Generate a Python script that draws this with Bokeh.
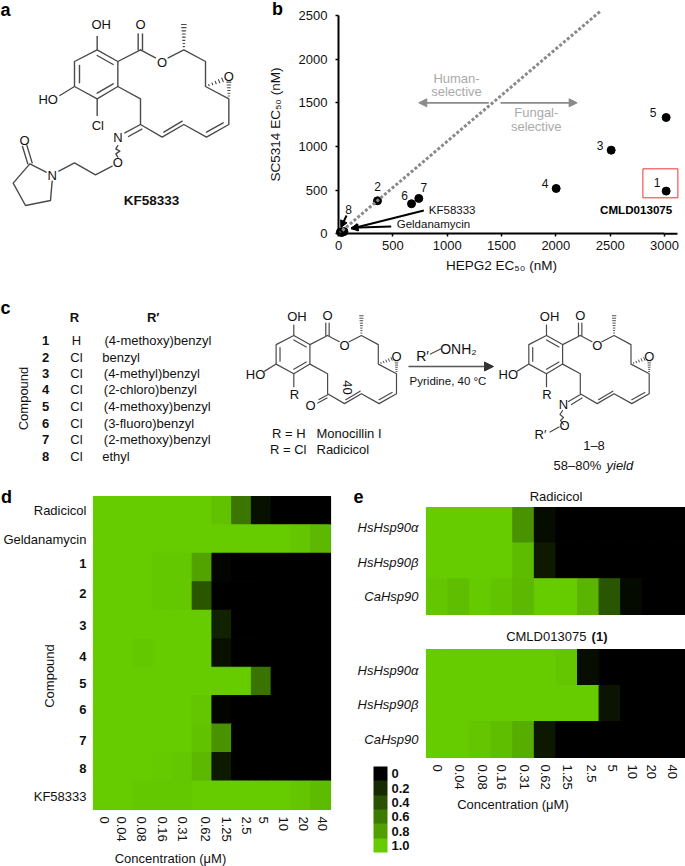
import math
from bokeh.core.properties import value
from bokeh.embed import file_html
from bokeh.layouts import column, row
from bokeh.models import (Arrow, ColorBar, ColumnDataSource, FixedTicker, LinearAxis,
                          LinearColorMapper, NormalHead, Range1d)
from bokeh.plotting import figure
from bokeh.resources import INLINE
from bokeh.transform import linear_cmap

FONT = "Liberation Sans"
INK = "#4a4a4a"

# ---------- panel b data ----------
hepg2 = [3015, 2509, 3015, 2003, 739, 672, 359, 18, 50, 30]
sc5314 = [1332, 958, 489, 519, 405, 344, 378, 20, 25, 15]
b_names = ["5", "3", "1", "4", "7", "6", "2"]
b_dx = [-13, -11, -9, -11, 5, -7, 0]
b_dy = [5, 5, 9, 5, 11, 8, 14]
b_ticks_x = [0, 500, 1000, 1500, 2000, 2500, 3000]
b_ticks_y = [0, 500, 1000, 1500, 2000, 2500]

# ---------- heatmap data ----------
conc = ["0", "0.04", "0.08", "0.16", "0.31", "0.62", "1.25", "2.5", "5", "10", "20", "40"]
d_radicicol = [1, 1, 1, 1, 1, 1, .95, .58, .08, 0, 0, 0]
d_geldanamycin = [1, 1, 1, 1, 1, 1, 1, 1, 1, 1, .97, .9]
d_1 = [1, 1, 1, .98, .98, .8, .03, 0, 0, 0, 0, 0]
d_2 = [1, 1, 1, .98, .98, .42, 0, 0, 0, 0, 0, 0]
d_3 = [1, 1, 1, 1, 1, 1, .17, 0, 0, 0, 0, 0]
d_4 = [1, 1, .98, 1, 1, 1, .08, 0, 0, 0, 0, 0]
d_5 = [1, 1, 1, 1, 1, 1, 1, 1, .57, 0, 0, 0]
d_6 = [1, 1, 1, 1, 1, .97, .02, 0, 0, 0, 0, 0]
d_7 = [1, 1, 1, 1, 1, .95, .72, 0, 0, 0, 0, 0]
d_8 = [1, 1, 1, .99, .98, .9, .13, 0, 0, 0, 0, 0]
d_kf = [1, 1, .98, .98, .98, 1, 1, 1, 1, 1, .97, .92]
d_rows = [d_radicicol, d_geldanamycin, d_1, d_2, d_3, d_4, d_5, d_6, d_7, d_8, d_kf]
d_named = {0: "Radicicol", 1: "Geldanamycin", 10: "KF58333"}
d_bold = {2: "1", 3: "2", 4: "3", 5: "4", 6: "5", 7: "6", 8: "7", 9: "8"}
d_label_pos = [.50, 1.52, 2.37, 3.41, 4.54, 5.63, 6.57, 7.50, 8.59, 9.56, 10.56]
d_x_pos = [.54, 1.44, 2.44, 3.49, 4.53, 5.66, 6.73, 7.77, 8.62, 9.63, 10.64, 11.62]

e_hsp = ["HsHsp90α", "HsHsp90β", "CaHsp90"]
e_rad_a = [1, 1, 1, 1, .72, .06, 0, 0, 0, 0, 0, 0]
e_rad_b = [1, 1, 1, 1, .92, .13, 0, 0, 0, 0, 0, 0]
e_rad_c = [.97, .93, .99, .96, .9, 1, 1, .88, .42, .05, 0, 0]
e_cml_a = [1, 1, 1, 1, 1, 1, .97, .07, 0, 0, 0, 0]
e_cml_b = [1, 1, 1, 1, 1, 1, 1, 1, .1, 0, 0, 0]
e_cml_c = [1, 1, .97, .93, .85, .12, 0, 0, 0, 0, 0, 0]
e_x_pos = [.49, 1.54, 2.58, 3.48, 4.56, 5.51, 6.52, 7.63, 8.6, 9.53, 10.41, 11.38]
e_label_pos = [.57, 1.53, 2.49]

legend_levels = ["0", "0.2", "0.4", "0.6", "0.8", "1.0"]
legend_colors = ["#66cc00", "#529f00", "#3d7a00", "#2a5200", "#172b00", "#000000"]

# ---------- table data ----------
compound_no = ["1", "2", "3", "4", "5", "6", "7", "8"]
compound_r = ["H", "Cl", "Cl", "Cl", "Cl", "Cl", "Cl", "Cl"]
compound_rp = ["(4-methoxy)benzyl", "benzyl", "(4-methyl)benzyl", "(2-chloro)benzyl",
               "(4-methoxy)benzyl", "(3-fluoro)benzyl", "(2-methoxy)benzyl", "ethyl"]

# ---------- structure scaffold (drawing units) ----------
SCAFFOLD_BONDS = [
    [(290, 148), (352, 183), (352, 258), (290, 295), (222, 258), (222, 183), (290, 148)],
    [(237, 195), (237, 247)], [(290, 165), (338, 192)], [(290, 278), (338, 250)],
    [(290, 148), (290, 108)], [(222, 258), (178, 285)],
    [(352, 183), (420, 148)], [(413, 148), (413, 100)], [(426, 148), (426, 100)],
    [(420, 148), (465, 172)], [(503, 172), (550, 148), (615, 183), (615, 258), (685, 295), (685, 372),
                               (618, 410), (550, 372), (485, 410), (420, 372), (420, 295), (352, 258)],
    [(668, 367), (618, 395)], [(545, 362), (490, 395)],
]
SCAFFOLD_HASHES = [((550, 148), (550, 72), 8, 6), ((615, 258), (666, 238), 5, 5), ((685, 295), (685, 245), 6, 5)]
SCAFFOLD_O = [(420, 72), (485, 185), (685, 228)]


def canvas(x_range, y_range, w, h):
    p = figure(x_range=x_range, y_range=y_range, width=w, height=h, output_backend="svg",
               toolbar_location=None, min_border=0, outline_line_color=None)
    p.grid.visible = False
    return p


def txt(p, x, y, s, size=13, style="normal", align="center", angle=0.0, color="#111111"):
    p.text(x=[x], y=[y], text=[s], text_font=value(FONT), text_font_size=value(f"{size}px"),
           text_font_style=style, text_align=align, text_baseline="middle", angle=angle, text_color=color)


def bonds(p, segs, width=1.4, color=INK):
    p.multi_line([[q[0] for q in s] for s in segs], [[q[1] for q in s] for s in segs],
                 line_color=color, line_width=width, line_cap="round", line_join="round")


def scaffold(p, ox, oy, s, lw, size, r_text):
    T = lambda q: (ox + s * (q[0] - 290), oy + s * (q[1] - 148))
    bonds(p, [[T(q) for q in seg] for seg in SCAFFOLD_BONDS + [[(290, 295), (290, 345)]]], lw)
    hs = []
    for a, b, n, hw in SCAFFOLD_HASHES:
        L = math.hypot(b[0] - a[0], b[1] - a[1])
        ux, uy = (b[0] - a[0]) / L, (b[1] - a[1]) / L
        for i in range(1, n + 1):
            f = i / n
            cx, cy = a[0] + (b[0] - a[0]) * f, a[1] + (b[1] - a[1]) * f
            w = hw * f + 1
            hs.append([T((cx - uy * w, cy + ux * w)), T((cx + uy * w, cy - ux * w))])
    bonds(p, hs, lw * .8)
    x, y = T((302, 73)); txt(p, x, y, "OH", size)
    x, y = T((143, 297)); txt(p, x, y, "HO", size)
    x, y = T((292, 375)); txt(p, x, y, r_text, size)
    for q in SCAFFOLD_O:
        x, y = T(q); txt(p, x, y, "O", size)
    return T


# ---------- panel a ----------
pa = canvas(Range1d(0, 260), Range1d(290, 0), 260, 290)
pa.axis.visible = False
Ta = scaffold(pa, 290 / 3, 148 / 3, 1 / 3, 1.4, 13, "Cl")
bonds(pa, [[Ta(q) for q in seg] for seg in [
    [(420, 372), (373, 397)], [(424, 386), (384, 408)],
    [(352, 435), (346, 445), (358, 452), (346, 460), (352, 470)],
    [(335, 497), (285, 523), (222, 487), (175, 512)],
    [(155, 542), (150, 600), (75, 615), (38, 548), (88, 490), (137, 515)],
    [(82, 490), (66, 438)], [(95, 487), (79, 434)],
]])
for q, s in [((352, 412), "N"), ((352, 487), "O"), ((155, 525), "N"), ((72, 420), "O")]:
    x, y = Ta(q); txt(pa, x, y, s, 13)
txt(pa, 151, 200, "KF58333", 13.5, "bold")
txt(pa, 5, 9, "a", 18, "bold", color="black")

# ---------- panel b ----------
pb = canvas(Range1d(-717.7, 3193), Range1d(-649.5, 2672), 425, 290)
pb.xaxis.axis_label = "HEPG2 EC₅₀ (nM)"
pb.yaxis.axis_label = "SC5314 EC₅₀ (nM)"
pb.xaxis.ticker = FixedTicker(ticks=b_ticks_x)
pb.yaxis.ticker = FixedTicker(ticks=b_ticks_y)
pb.xaxis.fixed_location = 0
pb.yaxis.fixed_location = 0
pb.xaxis.bounds = (0, 3000)
pb.yaxis.bounds = (0, 2500)
for ax in [pb.xaxis[0], pb.yaxis[0]]:
    ax.axis_line_width = 2
    ax.axis_line_color = "black"
    ax.major_tick_line_width = 1.5
    ax.major_tick_line_color = "black"
    ax.major_tick_in = 0
    ax.major_tick_out = 3
    ax.minor_tick_line_color = None
    ax.major_label_text_font = FONT
    ax.major_label_text_font_size = "13px"
    ax.major_label_text_color = "#111111"
    ax.axis_label_text_font = FONT
    ax.axis_label_text_font_size = "13.5px"
    ax.axis_label_text_font_style = "normal"
    ax.axis_label_text_color = "#111111"
pb.xaxis.major_label_standoff = 4
pb.yaxis.major_label_standoff = 8
pb.xaxis.axis_label_standoff = 5
pb.yaxis.axis_label_standoff = 13
pb.line([3000, 3119], [0, 0], line_color="black", line_width=2)
pb.scatter(hepg2, sc5314, size=8, color="black")
pb.line([0, 2410], [0, 2550], line_color="#8a8a8a", line_width=3, line_dash="3 2")
pb.text(x=hepg2[:7], y=sc5314[:7], text=b_names, x_offset=b_dx, y_offset=[-d for d in b_dy],
        text_font=value(FONT), text_font_size=value("12px"), text_align="center",
        text_baseline="middle", text_color="#111111")
for x0, y0, x1, y1 in [(74, 210, 22, 70), (785, 267, 115, 57), (485, 84, 115, 69)]:
    pb.add_layout(Arrow(end=NormalHead(size=7, fill_color="black", line_color="black"),
                        x_start=x0, y_start=y0, x_end=x1, y_end=y1, line_width=2, line_color="black"))
for x0, x1 in [(1383, 739), (1491, 2196)]:
    pb.add_layout(Arrow(end=NormalHead(size=8, fill_color="#8a8a8a", line_color="#8a8a8a"),
                        x_start=x0, y_start=1500, x_end=x1, y_end=1500, line_width=1.6, line_color="#8a8a8a"))
for x, y, s in [(1086, 1780, "Human-"), (1086, 1625, "selective"), (1820, 1385, "Fungal-"), (1820, 1225, "selective")]:
    txt(pb, x, y, s, 13, color="#aaaaaa")
txt(pb, 1046, 267, "KF58333", 11.5)
txt(pb, 874, 107, "Geldanamycin", 11.5)
txt(pb, 93, 280, "8", 12)
txt(pb, 2739, 279, "CMLD013075", 11.6, "bold", color="black")
pb.quad(left=[2801], right=[3123], bottom=[412], top=[744], fill_color=None, line_color="#ee3333", line_width=1)
txt(pb, -561, 2577, "b", 18, "bold", color="black")

# ---------- panel c ----------
pc = canvas(Range1d(0, 685), Range1d(485, 290), 685, 195)
pc.axis.visible = False
txt(pc, 5, 307, "c", 18, "bold", color="black")
txt(pc, 74, 317, "R", 13, "bold")
txt(pc, 152.7, 317, "R′", 13, "bold")
row_y = [340, 356.7, 373, 389.3, 406, 422.7, 439, 455.7]
rp_left = [104, 101.7, 103.3, 103.3, 103.3, 103.3, 103.3, 101.7]
for n, r, rp, y, xl in zip(compound_no, compound_r, compound_rp, row_y, rp_left):
    txt(pc, 45, y, n, 13, "bold")
    txt(pc, 76, y, r, 13)
    txt(pc, xl, y, rp, 13, align="left")
txt(pc, 22.7, 398, "Compound", 13, angle=math.pi / 2)
Tl = scaffold(pc, 293.3, 335, .26, 1.2, 13, "R")
bonds(pc, [[(327.7, 394), (318.5, 399)], [(326.5, 397.5), (317.3, 402.5)]], 1.2)
txt(pc, 310, 404.5, "O", 13)
txt(pc, 346.5, 387, "40", 13, angle=-math.pi / 2)
txt(pc, 271.5, 433, "R = H", 13, align="left")
txt(pc, 269.5, 448.5, "R = Cl", 13, align="left")
txt(pc, 316, 433, "Monocillin I", 13, align="left")
txt(pc, 316, 448.5, "Radicicol", 13, align="left")
txt(pc, 422, 355, "R′", 14)
bonds(pc, [[(430, 353.5), (440, 348.5)]], 1.2)
txt(pc, 458, 348, "ONH₂", 14)
pc.add_layout(Arrow(end=NormalHead(size=9, fill_color="#333333", line_color="#333333"),
                    x_start=408, y_start=366, x_end=493, y_end=366, line_width=1.6, line_color="#555555"))
txt(pc, 447.5, 380.5, "Pyridine, 40 °C", 11.5)
Tr = scaffold(pc, 546, 335, .26, 1.2, 13, "R")
bonds(pc, [[(580, 394), (568, 401)], [(581.5, 397.5), (571, 404)],
           [(562, 410), (559.5, 414), (563, 417), (560, 420), (563, 424)],
           [(549.5, 431.5), (558.5, 426.5)]], 1.2)
txt(pc, 563, 404, "N", 13)
txt(pc, 564, 425, "O", 13)
txt(pc, 540, 434, "R′", 13)
txt(pc, 593.5, 444.5, "1–8", 13)
txt(pc, 553, 465, "58–80%", 13, align="left")
txt(pc, 606, 465, "yield", 13, "italic", align="left")

# ---------- heatmaps ----------
palette = ["#%02x%02x00" % (round(102 * i / 255), round(204 * i / 255)) for i in range(256)]


def cells(p, rows):
    n = len(rows)
    xs, ys, vs = [], [], []
    for j, r in enumerate(rows):
        for i, v in enumerate(r):
            xs.append(i + .5); ys.append(n - j - .5); vs.append(v)
    src = ColumnDataSource(dict(x=xs, y=ys, v=vs))
    m = linear_cmap("v", palette, 0, 1)
    p.rect("x", "y", width=1, height=1, source=src, fill_color=m, line_color=m, line_width=1.2)


def style_axis(ax, fs="normal"):
    ax.fixed_location = 0
    ax.axis_line_color = None
    ax.major_tick_line_color = None
    ax.minor_tick_line_color = None
    ax.major_tick_in = 0
    ax.major_tick_out = 0
    ax.major_label_text_font = FONT
    ax.major_label_text_font_size = "13px"
    ax.major_label_text_font_style = fs
    ax.major_label_text_color = "#111111"
    ax.axis_label_text_font = FONT
    ax.axis_label_text_font_size = "13px"
    ax.axis_label_text_font_style = "normal"
    ax.axis_label_text_color = "#111111"


def heat_x_axis(p, pos, standoff):
    a = p.xaxis[0]
    a.ticker = FixedTicker(ticks=pos)
    a.major_label_overrides = dict(zip(pos, conc))
    a.major_label_orientation = -math.pi / 2
    a.major_label_standoff = standoff
    style_axis(a)


# frame = whole figure; 19.75 px per column, 313/11 px per row, heat block starts 93 px from the left
pd = canvas(Range1d(-93 / 19.75, 247 / 19.75), Range1d(-57 * 11 / 313, 11 + 11 * 11 / 313), 340, 381)
cells(pd, d_rows)
pd.xaxis.axis_label = "Concentration (μM)"
heat_x_axis(pd, d_x_pos, 7)
pd.xaxis.axis_label_standoff = 6
a0 = pd.yaxis[0]
named_pos = [11 - d_label_pos[k] for k in d_named]
a0.ticker = FixedTicker(ticks=named_pos)
a0.major_label_overrides = {11 - d_label_pos[k]: v for k, v in d_named.items()}
a0.major_label_standoff = 7
style_axis(a0)
bold_pos = [11 - d_label_pos[k] for k in d_bold]
a1 = LinearAxis(ticker=FixedTicker(ticks=bold_pos),
                major_label_overrides={11 - d_label_pos[k]: v for k, v in d_bold.items()},
                axis_label="Compound", axis_label_standoff=19, major_label_standoff=7)
style_axis(a1, fs="bold")
pd.add_layout(a1, "left")
txt(pd, -4.4, 11, "d", 18, "bold", color="black")


def heat_e(rows, w, h, top, bottom):
    # frame = whole figure; the heat block starts 86 px from the left
    uy = (h - top - bottom) / 3
    p = canvas(Range1d(-86 * 12 / 259, 12), Range1d(-bottom / uy, 3 + top / uy), w, h)
    cells(p, rows)
    y = p.yaxis[0]
    ticks = [3 - t for t in e_label_pos]
    y.ticker = FixedTicker(ticks=ticks)
    y.major_label_overrides = dict(zip(ticks, e_hsp))
    y.major_label_standoff = 8
    style_axis(y, fs="italic")
    return p


pe1 = heat_e([e_rad_a, e_rad_b, e_rad_c], 345, 137, 22, 8)
pe1.xaxis.visible = False
txt(pe1, 6, 3.32, "Radicicol")
txt(pe1, -3.15, 3.32, "e", 18, "bold", color="black")

pe2 = heat_e([e_cml_a, e_cml_b, e_cml_c], 345, 244, 27, 109)
pe2.xaxis.axis_label = "Concentration (μM)"
heat_x_axis(pe2, e_x_pos, 7)
pe2.xaxis.axis_label_standoff = 4
txt(pe2, 3.69, 3.37, "CMLD013075", align="left")
txt(pe2, 7.65, 3.37, "(1)", style="bold", align="left")

legend_ticks = [-1.0, -.8, -.6, -.4, -.2, 0.0]
mapper = LinearColorMapper(palette=legend_colors, low=-1.1, high=.1)
cb = ColorBar(color_mapper=mapper, ticker=FixedTicker(ticks=legend_ticks),
              major_label_overrides=dict(zip(legend_ticks, reversed(legend_levels))),
              location=(33, 14), width=14, height=86, padding=0, margin=0, label_standoff=4,
              major_tick_line_color=None, minor_tick_line_color=None, bar_line_color=None,
              background_fill_color=None, border_line_color=None,
              major_label_text_font=FONT, major_label_text_font_size="13px",
              major_label_text_font_style="bold", major_label_text_color="#111111")
pe2.add_layout(cb, "center")

page = column(row(pa, pb, spacing=0), pc, row(pd, column(pe1, pe2, spacing=0), spacing=0), spacing=0)
open("out.html", "w").write(file_html(page, INLINE))
